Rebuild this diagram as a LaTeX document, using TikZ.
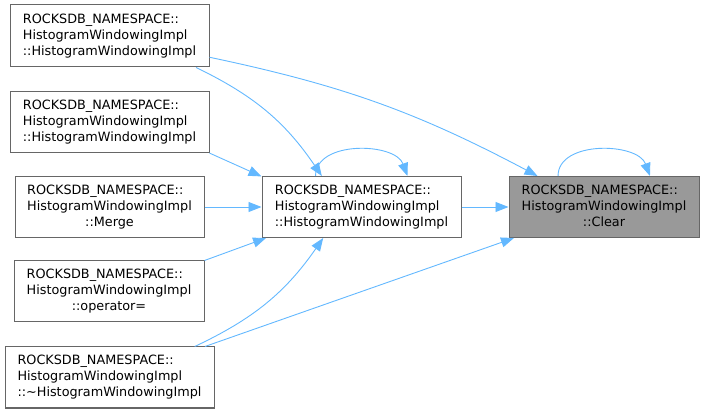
\documentclass[tikz,border=0pt]{standalone}
\usepackage{fontspec}
\setmainfont{DejaVu Sans}
\usepackage{xcolor}
\usetikzlibrary{arrows.meta}
\definecolor{DoxEdge}{HTML}{63B8FF}
\definecolor{DoxLine}{HTML}{666666}
\definecolor{DoxFill}{HTML}{999999}
\newcommand{\fnlabel}[3]{\begin{tabular}{@{}l@{}}#1\\#2\\\multicolumn{1}{@{}c@{}}{#3}\end{tabular}}

\begin{document}
\begin{tikzpicture}[x=1pt, y=-1pt,
          fbx/.style={rectangle, draw=DoxLine, line width=1pt, fill=white,
                      minimum width=199pt, minimum height=61pt, inner sep=0pt,
                      font=\fontsize{12.8}{16}\selectfont},
          arr/.style={-{Triangle[length=13pt, width=10pt]}, draw=DoxEdge,
                      line width=0.9pt}
        ]
        \useasboundingbox (0,0) rectangle (705,414);

        % callers on the left
        \node[fbx, minimum height=62pt] (hwiA) at (109.5,36)
              {\fnlabel{ROCKSDB\_NAMESPACE::}{HistogramWindowingImpl}{::HistogramWindowingImpl}};
        \node[fbx] (hwiB) at (109.5,122.5)
              {\fnlabel{ROCKSDB\_NAMESPACE::}{HistogramWindowingImpl}{::HistogramWindowingImpl}};
        \node[fbx, minimum width=189pt] (merge) at (109.5,207)
              {\fnlabel{ROCKSDB\_NAMESPACE::}{HistogramWindowingImpl}{::Merge}};
        \node[fbx, minimum width=190pt] (opeq) at (109,291.5)
              {\fnlabel{ROCKSDB\_NAMESPACE::}{HistogramWindowingImpl}{::operator=}};
        \node[fbx, minimum width=209pt] (dtor) at (109.5,377.5)
              {\fnlabel{ROCKSDB\_NAMESPACE::}{HistogramWindowingImpl}{::\textasciitilde HistogramWindowingImpl}};

        % middle and target
        \node[fbx] (ctor) at (361.5,207)
              {\fnlabel{ROCKSDB\_NAMESPACE::}{HistogramWindowingImpl}{::HistogramWindowingImpl}};
        \node[fbx, fill=DoxFill, minimum width=190pt] (clear) at (604,207)
              {\fnlabel{ROCKSDB\_NAMESPACE::}{HistogramWindowingImpl}{::Clear}};

        % calls into the constructor
        \draw[arr] (hwiA.-20) to[bend left=15] (ctor.142);
        \draw[arr] (hwiB.-17) -- (ctor.163);
        \draw[arr] (merge) -- (ctor);
        \draw[arr] (opeq.north east) -- (ctor.-162);
        \draw[arr] (dtor.20) to[bend right=15] (ctor.-141);
        \draw[arr] (ctor.146) to[out=90, in=110] (ctor.34);
        % calls into Clear
        \draw[arr] (hwiA.-12) to[bend left=8] (clear.155);
        \draw[arr] (dtor.18) -- (clear.-161);
        \draw[arr] (ctor) -- (clear);
        \draw[arr] (clear.146) to[out=90, in=110] (clear.34);
      \end{tikzpicture}
\end{document}
